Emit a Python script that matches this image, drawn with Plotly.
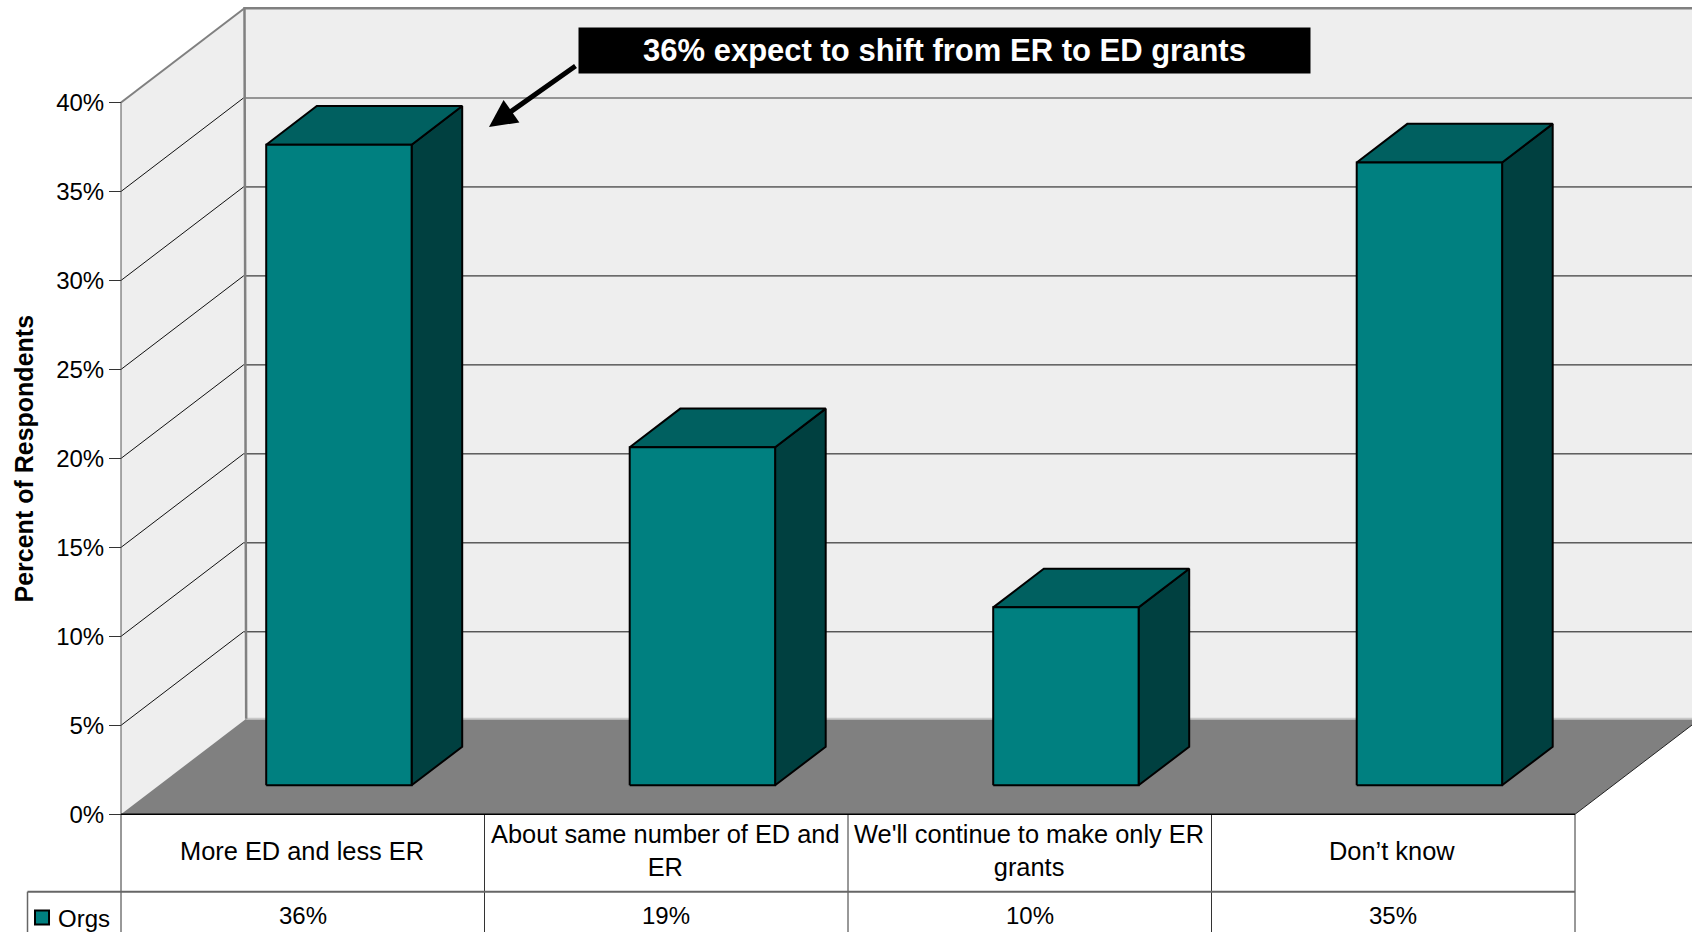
import plotly.graph_objects as go

# ---- data ----
categories = ["More ED and less ER", "About same number of ED and<br>ER",
              "We'll continue to make only ER<br>grants", "Don’t know"]
series_name = "Orgs"
values = [36, 19, 10, 35]
y_ticks = [0, 5, 10, 15, 20, 25, 30, 35, 40]
y_title = "Percent of Respondents"
callout = "36% expect to shift from ER to ED grants"

# ---- scale / projection ----
W, H = 1692, 932
X0, CAT_W = 121.0, 363.5      # pixel of category 0, pixels per category
Y0, PCT = 814.3, 17.795       # pixel of 0%, pixels per percent
DEPTH_X = 122.5 / CAT_W       # chart depth in category units
DEPTH_Y = 93.5 / PCT          # chart depth in percent units
FONT = "Liberation Sans"
N = len(categories)


def P(c, v, d=0.0):
    return c + d * DEPTH_X, v + d * DEPTH_Y


fig = go.Figure()


def poly(points, fill=None, line=None, width=1):
    xs, ys = zip(*[P(*p) for p in points])
    fig.add_trace(go.Scatter(
        x=list(xs), y=list(ys), mode="lines" if line else "none",
        fill="toself" if fill else None, fillcolor=fill,
        line=dict(color=line or "rgba(0,0,0,0)", width=width),
        hoverinfo="skip", showlegend=False))


top, WALL, GREY = max(y_ticks), "#eeeeee", "#808080"
FLOOR_D, TOP_D = 1.022, 1.008

# walls and floor
poly([(0, 0, 1), (0, top, TOP_D), (N, top, TOP_D), (N, 0, 1), (0, 0, 1)], WALL)
poly([(0, 0, 0), (0, top, 0), (0, top, TOP_D), (0, 0, 1), (0, 0, 0)], WALL)
for t in y_ticks[1:-1]:
    color = "#777777" if t == 35 else "#111111"
    poly([(0, t, 0), (0, t, 1)], None, "#111111", 1)
    poly([(0, t, 1), (N, t, 1)], None, color, 1.5 if t == 35 else 1)
poly([(0, 0, 0), (N, 0, 0), (N, 0, FLOOR_D), (0, 0, FLOOR_D), (0, 0, 0)], GREY)
poly([(N, 0, 0), (N, 0, FLOOR_D)], None, "#222222", 1)
poly([(0, 0, FLOOR_D), (N, 0, FLOOR_D)], None, "#c8c8c8", 2)
poly([(0, 0, FLOOR_D), (0, top, TOP_D), (N, top, TOP_D)], None, GREY, 2.5)
poly([(0, top, 0), (0, top, TOP_D)], None, GREY, 2)
poly([(0, 0, 0), (0, top, 0)], None, "#555555", 1)

# bars
D0, D1, HALF, CENTER = 0.31, 0.723, 0.2, 0.495
for k, v in enumerate(values):
    a, b = k + CENTER - HALF, k + CENTER + HALF
    poly([(b, 0, D0), (b, 0, D1), (b, v, D1), (b, v, D0), (b, 0, D0)], "#004040", "#000000", 2)
    poly([(a, v, D0), (a, v, D1), (b, v, D1), (b, v, D0), (a, v, D0)], "#006060", "#000000", 2)
    poly([(a, 0, D0), (b, 0, D0), (b, v, D0), (a, v, D0), (a, 0, D0)], "#008080", "#000000", 2)

# data table rules
ROW1, ROW2 = -4.35, -6.62
LEG_X = -0.2572
for k in range(N + 1):
    poly([(k, 0), (k, ROW2)], None, "#333333", 1)
poly([(0, 0), (N, 0)], None, "#000000", 1.5)
poly([(LEG_X, ROW1), (N, ROW1)], None, "#666666", 2)
poly([(LEG_X, ROW1), (LEG_X, ROW2)], None, "#666666", 1.5)

# legend key
fig.add_trace(go.Scatter(x=[-0.2173], y=[-5.8], mode="markers",
                         marker=dict(symbol="square", size=14, color="#008080",
                                     line=dict(color="#000000", width=2)),
                         hoverinfo="skip", showlegend=False))

note = dict(showarrow=False, font=dict(family=FONT, size=24, color="#000000"))
label = dict(showarrow=False, font=dict(family=FONT, size=25.4, color="#000000"))
for k, (c, v) in enumerate(zip(categories, values)):
    fig.add_annotation(x=k + 0.497, y=-2.06, text=c, xanchor="center", yanchor="middle", **label)
    fig.add_annotation(x=k + 0.5, y=-5.66, text=f"{v}%", xanchor="center", yanchor="middle", **note)
fig.add_annotation(x=-0.18, y=-5.83, text=series_name, xanchor="left", yanchor="middle", **note)

fig.add_annotation(xref="paper", yref="paper", x=23.5 / W, y=1 - 459 / H,
                   text=f"<b>{y_title}</b>", textangle=-90, showarrow=False,
                   xanchor="center", yanchor="middle",
                   font=dict(family=FONT, size=25, color="#000000"))

# callout box and arrow
fig.add_annotation(xref="paper", yref="paper", x=944.7 / W, y=1 - 50.5 / H,
                   text=f"<b>{callout}</b>", showarrow=False, width=729, height=43,
                   xanchor="center", yanchor="middle",
                   bgcolor="#000000", align="center", valign="middle",
                   font=dict(family=FONT, size=31, color="#ffffff"))
fig.add_annotation(x=(489 - X0) / CAT_W, y=(Y0 - 127) / PCT, text="", showarrow=True,
                   arrowhead=2, arrowsize=1.1, arrowwidth=5, arrowcolor="#000000",
                   ax=88, ay=-62)

fig.update_layout(
    width=W, height=H, margin=dict(l=0, r=0, t=0, b=0, pad=0),
    paper_bgcolor="#ffffff", plot_bgcolor="#ffffff", showlegend=False,
    font=dict(family=FONT, size=24, color="#000000"),
    xaxis=dict(visible=False, range=[-X0 / CAT_W, (W - X0) / CAT_W], domain=[0, 1]),
    yaxis=dict(range=[(Y0 - H) / PCT, Y0 / PCT], anchor="free", position=X0 / W,
               tickmode="array", tickvals=y_ticks, ticktext=[f"{t}%" for t in y_ticks],
               showgrid=False, zeroline=False, showline=False,
               ticks="outside", ticklen=12, tickwidth=1, tickcolor="#333333",
               tickfont=dict(family=FONT, size=24, color="#000000")),
)

fig.write_html("out.html", post_script="document.body.style.margin='0';document.body.style.overflow='hidden';",
               config={"displayModeBar": False})
